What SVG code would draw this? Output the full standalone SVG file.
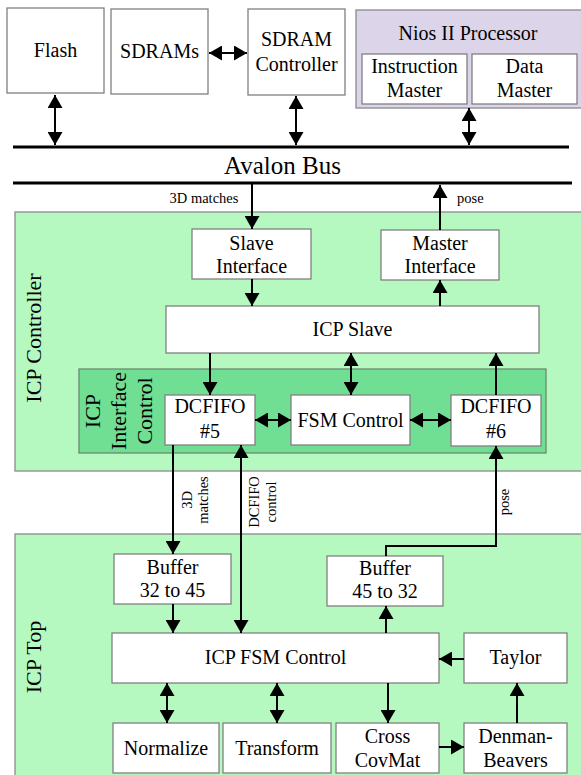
<svg xmlns="http://www.w3.org/2000/svg" width="581" height="775" viewBox="0 0 581 775">
<style>
text{font-family:"Liberation Serif","Times New Roman",serif;fill:#000;text-anchor:middle}
.t{font-size:20px}
.s{font-size:14.5px}
.big{font-size:22px}
.box{fill:#fff;stroke:#808080;stroke-width:1.3}
.region{fill:#b5f9c0;stroke:#8a8a8a;stroke-width:1.3}
.inner{fill:#70de93;stroke:#6a8a70;stroke-width:1.3}
.nios{fill:#dcd5ea;stroke:#8a8a8a;stroke-width:1.3}
.c{stroke:#000;stroke-width:2;fill:none}
.bus{stroke:#000;stroke-width:3}
</style>
<defs>
<marker id="ah" viewBox="0 0 13 15" refX="13" refY="7.5" markerWidth="13" markerHeight="15" markerUnits="userSpaceOnUse" orient="auto-start-reverse"><path d="M0,0 L13,7.5 L0,15 z" fill="#000"/></marker>
</defs>

<g id="icp-controller-region">
<rect class="region" x="15" y="212" width="570" height="259"/>
<text class="big" transform="translate(41,338) rotate(-90)">ICP Controller</text>
</g>
<g id="icp-interface-control">
<rect class="inner" x="79" y="369" width="467" height="84"/>
<text class="big" transform="translate(100,411) rotate(-90)">ICP</text>
<text class="big" transform="translate(126,411) rotate(-90)">Interface</text>
<text class="big" transform="translate(152,411) rotate(-90)">Control</text>
</g>
<g id="icp-top-region">
<rect class="region" x="15" y="534" width="570" height="245"/>
<text class="big" transform="translate(41,657) rotate(-90)">ICP Top</text>
</g>

<g id="flash"><rect class="box" x="7" y="8" width="97" height="85"/><text class="t" x="55.5" y="57">Flash</text></g>
<g id="sdrams"><rect class="box" x="111" y="9" width="97" height="85"/><text class="t" x="159.5" y="58">SDRAMs</text></g>
<g id="sdram-controller"><rect class="box" x="248" y="9" width="97" height="86"/><text class="t" x="296.5" y="46">SDRAM</text><text class="t" x="296.5" y="71">Controller</text></g>
<g id="nios">
<rect class="nios" x="356" y="10" width="230" height="98"/>
<text class="t" x="468" y="40">Nios II Processor</text>
<rect class="box" x="362" y="54" width="105" height="50"/>
<text class="t" x="414.5" y="73">Instruction</text><text class="t" x="414.5" y="97">Master</text>
<rect class="box" x="472" y="54" width="105" height="50"/>
<text class="t" x="524.5" y="73">Data</text><text class="t" x="524.5" y="97">Master</text>
</g>
<g id="avalon-bus">
<line class="bus" x1="13" y1="147" x2="569" y2="147"/>
<line class="bus" x1="13" y1="183" x2="572" y2="183"/>
<text x="282.5" y="174" style="font-size:25px">Avalon Bus</text>
</g>

<g id="slave-interface"><rect class="box" x="192" y="229" width="119" height="50"/><text class="t" x="251.5" y="250">Slave</text><text class="t" x="251.5" y="273">Interface</text></g>
<g id="master-interface"><rect class="box" x="381" y="230" width="118" height="50"/><text class="t" x="440" y="250">Master</text><text class="t" x="440" y="273">Interface</text></g>
<g id="icp-slave"><rect class="box" x="166" y="306" width="373" height="47"/><text class="t" x="352.5" y="336">ICP Slave</text></g>
<g id="dcfifo5"><rect class="box" x="165" y="395" width="90" height="50"/><text class="t" x="210" y="413">DCFIFO</text><text class="t" x="210" y="438">#5</text></g>
<g id="fsm-control"><rect class="box" x="291" y="395" width="119" height="50"/><text class="t" x="350.5" y="427">FSM Control</text></g>
<g id="dcfifo6"><rect class="box" x="451" y="395" width="90" height="51"/><text class="t" x="496" y="413">DCFIFO</text><text class="t" x="496" y="438">#6</text></g>

<g id="buffer-32-45"><rect class="box" x="114" y="554" width="117" height="50"/><text class="t" x="172.5" y="574">Buffer</text><text class="t" x="172.5" y="597">32 to 45</text></g>
<g id="buffer-45-32"><rect class="box" x="327" y="556" width="116" height="50"/><text class="t" x="385" y="575">Buffer</text><text class="t" x="385" y="598">45 to 32</text></g>
<g id="icp-fsm-control"><rect class="box" x="112" y="633" width="327" height="50"/><text class="t" x="275.5" y="664">ICP FSM Control</text></g>
<g id="taylor"><rect class="box" x="464" y="633" width="103" height="50"/><text class="t" x="515.5" y="664">Taylor</text></g>
<g id="normalize"><rect class="box" x="113" y="723" width="106" height="50"/><text class="t" x="166" y="755">Normalize</text></g>
<g id="transform"><rect class="box" x="223" y="723" width="108" height="50"/><text class="t" x="277" y="755">Transform</text></g>
<g id="cross-covmat"><rect class="box" x="336" y="723" width="103" height="50"/><text class="t" x="387.5" y="743">Cross</text><text class="t" x="387.5" y="767">CovMat</text></g>
<g id="denman-beavers"><rect class="box" x="464" y="723" width="103" height="50"/><text class="t" x="515.5" y="743">Denman-</text><text class="t" x="515.5" y="767">Beavers</text></g>

<g id="connectors">
<line class="c" x1="55" y1="95" x2="55" y2="145" marker-start="url(#ah)" marker-end="url(#ah)"/>
<line class="c" x1="296" y1="96" x2="296" y2="145" marker-start="url(#ah)" marker-end="url(#ah)"/>
<line class="c" x1="469" y1="108" x2="469" y2="145" marker-start="url(#ah)" marker-end="url(#ah)"/>
<line class="c" x1="209" y1="53" x2="247" y2="53" marker-start="url(#ah)" marker-end="url(#ah)"/>
<line class="c" x1="252" y1="184" x2="252" y2="229" marker-end="url(#ah)"/>
<text class="s" x="204" y="203">3D matches</text>
<line class="c" x1="440" y1="230" x2="440" y2="185" marker-end="url(#ah)"/>
<text class="s" x="457" y="203" style="text-anchor:start">pose</text>
<line class="c" x1="252" y1="279" x2="252" y2="306" marker-end="url(#ah)"/>
<line class="c" x1="440" y1="306" x2="440" y2="280" marker-end="url(#ah)"/>
<line class="c" x1="210" y1="353" x2="210" y2="395" marker-end="url(#ah)"/>
<line class="c" x1="351" y1="353" x2="351" y2="395" marker-start="url(#ah)" marker-end="url(#ah)"/>
<line class="c" x1="496" y1="395" x2="496" y2="353" marker-end="url(#ah)"/>
<line class="c" x1="255" y1="420" x2="291" y2="420" marker-start="url(#ah)" marker-end="url(#ah)"/>
<line class="c" x1="410" y1="420" x2="451" y2="420" marker-start="url(#ah)" marker-end="url(#ah)"/>
<line class="c" x1="173" y1="445" x2="173" y2="554" marker-end="url(#ah)"/>
<text class="s" transform="translate(192,500) rotate(-90)">3D</text>
<text class="s" transform="translate(208,500) rotate(-90)">matches</text>
<line class="c" x1="241" y1="445" x2="241" y2="633" marker-start="url(#ah)" marker-end="url(#ah)"/>
<text class="s" transform="translate(259,502) rotate(-90)">DCFIFO</text>
<text class="s" transform="translate(276,502) rotate(-90)">control</text>
<polyline class="c" points="386,556 386,546 496,546 496,446" marker-end="url(#ah)"/>
<text class="s" transform="translate(509,502) rotate(-90)">pose</text>
<line class="c" x1="173" y1="604" x2="173" y2="633" marker-end="url(#ah)"/>
<line class="c" x1="386" y1="633" x2="386" y2="606" marker-end="url(#ah)"/>
<line class="c" x1="464" y1="659" x2="439" y2="659" marker-end="url(#ah)"/>
<line class="c" x1="167" y1="683" x2="167" y2="723" marker-start="url(#ah)" marker-end="url(#ah)"/>
<line class="c" x1="277" y1="683" x2="277" y2="723" marker-start="url(#ah)" marker-end="url(#ah)"/>
<line class="c" x1="388" y1="683" x2="388" y2="723" marker-end="url(#ah)"/>
<line class="c" x1="439" y1="747" x2="464" y2="747" marker-end="url(#ah)"/>
<line class="c" x1="517" y1="723" x2="517" y2="683" marker-end="url(#ah)"/>
</g>
</svg>
